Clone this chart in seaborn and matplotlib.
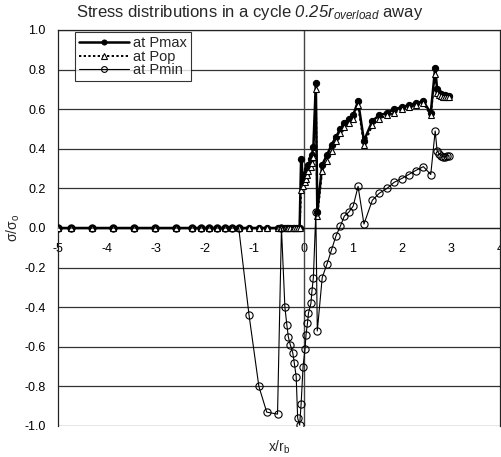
import numpy as np
import pandas as pd
import matplotlib
matplotlib.use("Agg")
import matplotlib.pyplot as plt
from matplotlib.ticker import FormatStrFormatter
import seaborn as sns

# ---- data ----
x_nodes = [-5.0, -4.74, -4.31, -3.88, -3.45, -3.02, -2.59, -2.27, -2.09, -1.92,
           -1.76, -1.60, -1.46, -1.32, -1.11, -0.91, -0.75, -0.53, -0.45, -0.38,
           -0.34, -0.31, -0.27, -0.22, -0.19, -0.15, -0.12, -0.08, -0.05, -0.01,
           0.03, 0.05, 0.08, 0.10, 0.15, 0.17, 0.20, 0.25, 0.28, 0.38,
           0.48, 0.57, 0.66, 0.75, 0.83, 0.92, 1.01, 1.11, 1.23, 1.40,
           1.54, 1.70, 1.84, 2.00, 2.14, 2.28, 2.44, 2.59, 2.68, 2.72,
           2.76, 2.80, 2.84, 2.88, 2.92, 2.96]

pmax = [0, 0, 0, 0, 0, 0, 0, 0, 0, 0,
        0, 0, 0, 0, 0, 0, 0, 0, 0, 0,
        0, 0, 0, 0, 0, 0, 0, 0, 0.35, 0.23,
        0.26, 0.28, 0.30, 0.32, 0.35, 0.37, 0.41, 0.73, 0.08, 0.32,
        0.37, 0.42, 0.46, 0.50, 0.53, 0.55, 0.57, 0.64, 0.44, 0.54,
        0.57, 0.58, 0.60, 0.61, 0.62, 0.63, 0.64, 0.58, 0.81, 0.70,
        0.68, 0.675, 0.67, 0.67, 0.665, 0.665]

pop = [0, 0, 0, 0, 0, 0, 0, 0, 0, 0,
       0, 0, 0, 0, 0, 0, 0, 0, 0, 0,
       0, 0, 0, 0, 0, 0, 0, 0, 0.19, 0.21,
       0.23, 0.25, 0.27, 0.29, 0.31, 0.33, 0.36, 0.70, 0.06, 0.29,
       0.34, 0.39, 0.44, 0.48, 0.51, 0.53, 0.55, 0.62, 0.42, 0.52,
       0.55, 0.57, 0.58, 0.60, 0.61, 0.62, 0.63, 0.57, 0.78, 0.68,
       0.67, 0.665, 0.66, 0.66, 0.66, 0.66]

pmin = [0, 0, 0, 0, 0, 0, 0, 0, 0, 0,
        0, 0, 0, 0, -0.44, -0.80, -0.93, -0.94, 0.0, -0.40,
        -0.49, -0.55, -0.59, -0.63, -0.68, -0.75, -0.96, -0.995, -0.89, -0.70,
        -0.61, -0.54, -0.48, -0.43, -0.38, -0.32, -0.25, 0.08, -0.52, -0.25,
        -0.18, -0.11, -0.04, 0.01, 0.06, 0.08, 0.11, 0.21, 0.02, 0.14,
        0.175, 0.20, 0.23, 0.25, 0.27, 0.29, 0.31, 0.27, 0.49, 0.39,
        0.375, 0.365, 0.36, 0.36, 0.365, 0.365]

series_labels = ["at Pmax", "at Pop", "at Pmin"]
x_ticks = [-5, -4, -3, -2, -1, 0, 1, 2, 3, 4]
y_ticks = [-1.0, -0.8, -0.6, -0.4, -0.2, 0.0, 0.2, 0.4, 0.6, 0.8, 1.0]

# ---- style ----
sns.set_style("white")
plt.rcParams["font.family"] = ["Liberation Sans", "DejaVu Sans"]
plt.rcParams["axes.unicode_minus"] = False
plt.rcParams["mathtext.fontset"] = "custom"
plt.rcParams["mathtext.rm"] = "Liberation Sans"
plt.rcParams["mathtext.it"] = "Liberation Sans:italic"
plt.rcParams["mathtext.sf"] = "Liberation Sans:italic"

fig = plt.figure(figsize=(5.02, 4.57), dpi=100)
L, R, T, B = 58, 500, 30, 426
ax = fig.add_axes([L / 502, 1 - B / 457, (R - L) / 502, (B - T) / 457])

df = pd.DataFrame({"x": x_nodes, "pmax": pmax, "pop": pop, "pmin": pmin})

sns.lineplot(data=df, x="x", y="pmax", ax=ax, sort=False, estimator=None,
             color="black", linewidth=1.8, marker="o", markersize=4.5,
             markerfacecolor="black", markeredgecolor="black",
             label=series_labels[0], zorder=3)
sns.lineplot(data=df, x="x", y="pop", ax=ax, sort=False, estimator=None,
             color="black", linewidth=1.4, linestyle=(0, (1.2, 1.2)),
             marker="^", markersize=5, markerfacecolor="white",
             markeredgecolor="black", markeredgewidth=0.8,
             label=series_labels[1], zorder=4)
sns.lineplot(data=df, x="x", y="pmin", ax=ax, sort=False, estimator=None,
             color="black", linewidth=0.8, marker="o", markersize=5.2,
             markerfacecolor="none", markeredgecolor="black",
             markeredgewidth=0.8, label=series_labels[2], zorder=5)

ax.set_xlim(-5, 4)
ax.set_ylim(-1.0, 1.0)
ax.set_xticks(x_ticks)
ax.set_xticklabels([str(t) for t in x_ticks])
ax.set_yticks(y_ticks)
ax.yaxis.set_major_formatter(FormatStrFormatter("%.1f"))

for yv in y_ticks:
    ax.axhline(yv, color="#333333", linewidth=0.9, zorder=1)
ax.axvline(0, color="#444444", linewidth=1.0, zorder=1)

ax.spines["bottom"].set_position(("data", 0))
for s in ["left", "right", "top", "bottom"]:
    ax.spines[s].set_color("#222222")
    ax.spines[s].set_linewidth(0.9)

ax.tick_params(axis="x", direction="out", length=4, width=0.8, pad=7,
               labelsize=9, colors="black")
ax.tick_params(axis="y", direction="out", length=4, width=0.8, pad=5,
               labelsize=9, colors="black")

ax.set_xlabel("")
ax.set_ylabel("")
fig.text(279 / 502, 1 - 447 / 457, "x/r$_\\mathregular{b}$", ha="center",
         va="center", fontsize=10)
fig.text(13 / 502, 1 - 228 / 457, "σ/σ$_\\mathregular{o}$", ha="center",
         va="center", rotation=90, fontsize=10)
fig.text(250 / 502, 1 - 13 / 457,
         "Stress distributions in a cycle $\\mathsf{0.25r}_{\\mathsf{overload}}$ away",
         ha="center", va="center", fontsize=12)

leg = ax.legend(loc="upper left", bbox_to_anchor=((75 - L) / (R - L), (B - 32) / (B - T)),
                borderaxespad=0, frameon=True, fancybox=False, fontsize=10.5,
                handlelength=3.4, handletextpad=0.25, labelspacing=-0.05,
                borderpad=0.3, markerscale=0.8)
leg.get_frame().set_edgecolor("black")
leg.get_frame().set_linewidth(0.8)
leg.set_zorder(10)

fig.savefig("out.png", dpi=100)
